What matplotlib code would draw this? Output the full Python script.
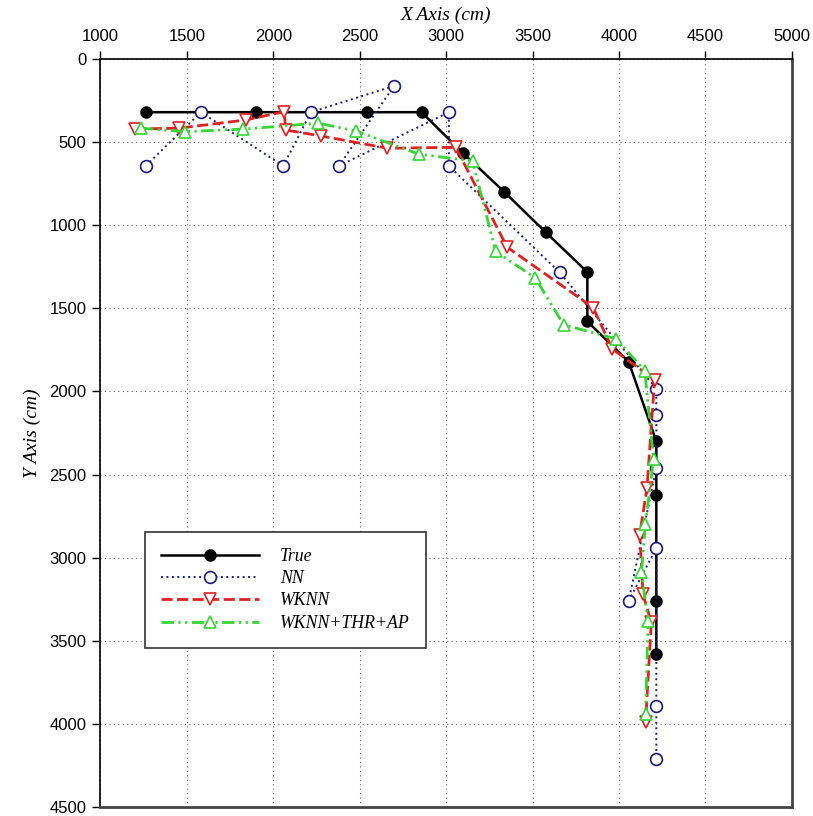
import matplotlib
matplotlib.use("Agg")
import matplotlib.pyplot as plt

# True path
true_x = [1262, 1898, 2540, 2858, 3097, 3336, 3575, 3817, 3817, 4056, 4216, 4216, 4216, 4216]
true_y = [320, 320, 320, 320, 565, 799, 1041, 1282, 1579, 1821, 2300, 2620, 3261, 3582]

# NN estimate
nn_x = [1262, 1582, 2058, 2218, 2699, 2380, 3016, 3016, 3657, 4216, 4216, 4216, 4056, 4216, 4216, 4216]
nn_y = [643, 320, 643, 320, 162, 643, 320, 643, 1284, 1983, 2139, 2460, 3261, 2941, 3892, 4213]

# WKNN estimate
wknn_x = [1201, 1455, 1840, 2064, 2072, 2276, 2661, 3056, 3353, 3850, 3962, 4206, 4162, 4120, 4139, 4187, 4154]
wknn_y = [421, 416, 367, 317, 427, 463, 537, 531, 1132, 1495, 1745, 1929, 2580, 2861, 3221, 3389, 3989]

# WKNN+THR+AP estimate
wta_x = [1234, 1490, 1827, 2260, 2478, 2844, 3153, 3287, 3517, 3680, 3985, 4149, 4200, 4153, 4130, 4168, 4154]
wta_y = [416, 437, 422, 386, 433, 573, 613, 1158, 1318, 1599, 1684, 1875, 2404, 2800, 3089, 3382, 3942]

serif = "Liberation Serif"
sans = "Liberation Sans"

fig = plt.figure(figsize=(8.13, 8.16), dpi=100)
ax = fig.add_axes([0.1234, 0.011, 0.8506, 0.9167])

ax.plot(true_x, true_y, color="black", lw=1.8, marker="o", ms=8,
        mfc="black", mec="black", label="True", zorder=3)
ax.plot(nn_x, nn_y, color="#1c1c7a", lw=1.4, ls=(0, (1, 1.8)), marker="o", ms=8.5,
        mfc="white", mec="#1c1c7a", mew=1.2, label="NN", zorder=4)
ax.plot(wknn_x, wknn_y, color="#e02020", lw=2, ls=(0, (4, 1.6)), marker="v", ms=8.5,
        mfc="white", mec="#e02020", mew=1.2, label="WKNN", zorder=5)
ax.plot(wta_x, wta_y, color="#33d633", lw=2, ls=(0, (4.5, 1.6, 0.8, 1.6, 0.8, 1.6)), marker="^", ms=8.5,
        mfc="white", mec="#33d633", mew=1.2, label="WKNN+THR+AP", zorder=6)

ax.set_xlim(1000, 5000)
ax.set_ylim(4500, 0)
ax.set_xticks(range(1000, 5001, 500))
ax.set_yticks(range(0, 4501, 500))
ax.xaxis.tick_top()
ax.xaxis.set_label_position("top")
ax.tick_params(direction="out", length=6, width=1, labelsize=12, pad=4)
ax.tick_params(axis="x", pad=5)
for lab in ax.get_xticklabels() + ax.get_yticklabels():
    lab.set_family(sans)

ax.grid(True, ls=(0, (1, 3)), color="#666666", lw=0.8)
ax.set_axisbelow(True)

for side in ["left", "top"]:
    ax.spines[side].set_linewidth(1.2)
    ax.spines[side].set_color("black")
for side in ["right", "bottom"]:
    ax.spines[side].set_linewidth(2)
    ax.spines[side].set_color("#444444")

ax.set_xlabel("X Axis (cm)", family=serif, style="italic", fontsize=14, labelpad=6)
ax.set_ylabel("Y Axis (cm)", family=serif, style="italic", fontsize=14, labelpad=6)

leg = ax.legend(loc="upper left", bbox_to_anchor=(0.0646, 0.368), borderaxespad=0,
                fancybox=False, framealpha=1, edgecolor="#333333",
                prop={"family": serif, "style": "italic", "size": 12.8},
                handlelength=5.5, handletextpad=1.2, labelspacing=0.3,
                borderpad=0.9)
leg.get_frame().set_linewidth(1.2)

plt.savefig("out.png", dpi=100)
plt.close()
